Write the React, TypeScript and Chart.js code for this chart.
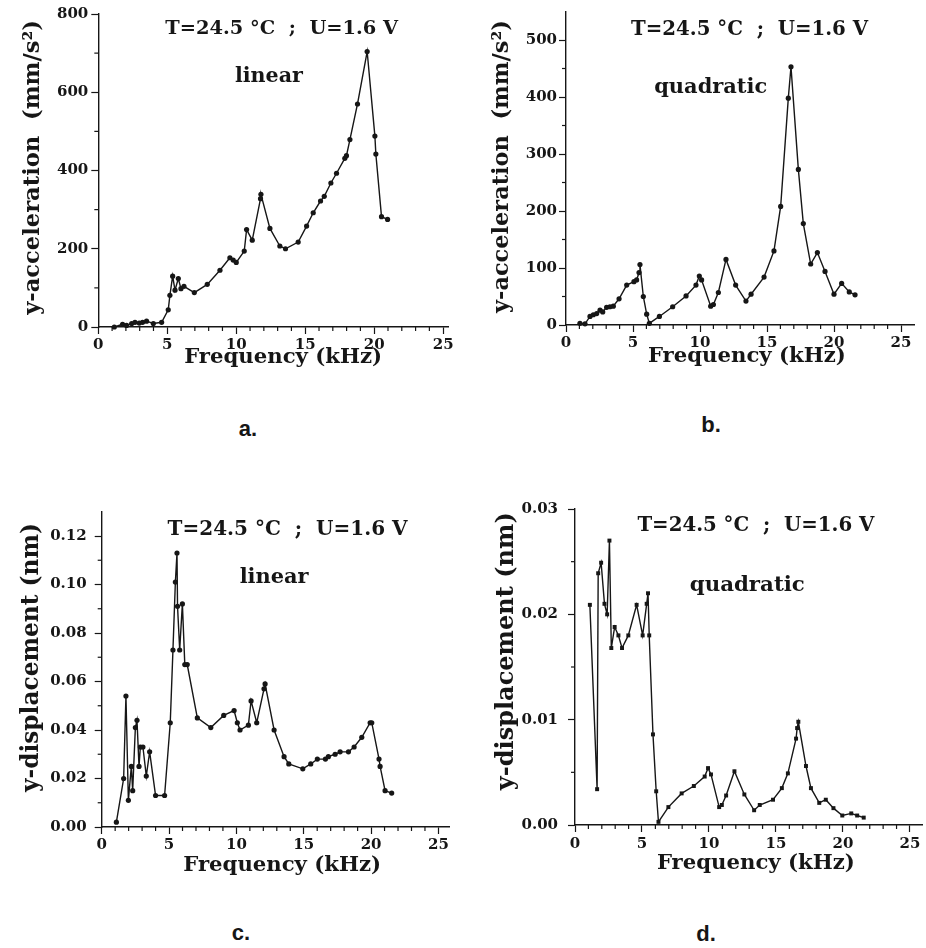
import React, { useEffect, useRef } from 'react';
import { Chart, registerables } from 'chart.js';

Chart.register(...registerables);

// ---------------- data ----------------
const freqA = [1.16, 1.76, 2.05, 2.42, 2.66, 2.97, 3.21, 3.5, 3.99, 4.59, 5.07, 5.19, 5.39, 5.56, 5.8, 5.99, 6.21, 6.96, 7.9, 8.82, 9.54, 9.78, 10.0, 10.58, 10.75, 11.16, 11.76, 11.79, 12.44, 13.16, 13.57, 14.49, 15.1, 15.58, 16.11, 16.38, 16.86, 17.27, 17.87, 17.99, 18.24, 18.79, 19.49, 20.05, 20.12, 20.53, 20.97];
const accA = [0, 7, 4, 9, 12, 10, 12, 15, 9, 12, 44, 81, 130, 94, 124, 98, 104, 88, 109, 145, 177, 171, 165, 194, 249, 222, 328, 339, 252, 207, 200, 217, 258, 292, 322, 334, 368, 393, 431, 438, 479, 570, 704, 488, 442, 282, 275];

const freqB = [1.04, 1.42, 1.79, 2.04, 2.29, 2.54, 2.74, 3.03, 3.28, 3.53, 3.96, 4.53, 5.07, 5.27, 5.45, 5.52, 5.77, 6.02, 6.22, 6.97, 7.96, 8.96, 9.7, 9.95, 10.12, 10.8, 11.0, 11.37, 11.94, 12.66, 13.43, 13.81, 14.78, 15.52, 16.02, 16.59, 16.79, 17.34, 17.71, 18.26, 18.76, 19.33, 20.0, 20.57, 21.14, 21.57];
const accB = [3, 2, 15, 18, 20, 26, 23, 31, 32, 33, 46, 70, 76, 79, 92, 106, 50, 19, 3, 15, 32, 51, 70, 86, 79, 33, 36, 57, 115, 70, 42, 54, 84, 130, 208, 398, 453, 273, 178, 107, 127, 94, 54, 73, 58, 53];

const freqC = [1.09, 1.63, 1.8, 1.98, 2.2, 2.3, 2.5, 2.62, 2.77, 2.87, 3.06, 3.31, 3.56, 4.0, 4.67, 5.09, 5.29, 5.47, 5.59, 5.63, 5.79, 5.99, 6.17, 6.35, 7.1, 8.1, 9.06, 9.83, 10.07, 10.27, 10.89, 11.09, 11.51, 12.05, 12.13, 12.8, 13.54, 13.89, 14.93, 15.52, 16.01, 16.61, 16.83, 17.33, 17.7, 18.32, 18.74, 19.31, 19.93, 20.05, 20.59, 20.67, 21.04, 21.53];
const dispC = [0.002, 0.02, 0.054, 0.011, 0.025, 0.015, 0.041, 0.044, 0.025, 0.033, 0.033, 0.021, 0.031, 0.013, 0.013, 0.043, 0.073, 0.101, 0.113, 0.091, 0.073, 0.092, 0.067, 0.067, 0.045, 0.041, 0.046, 0.048, 0.043, 0.04, 0.042, 0.052, 0.043, 0.057, 0.059, 0.04, 0.029, 0.026, 0.024, 0.026, 0.028, 0.028, 0.029, 0.03, 0.031, 0.031, 0.033, 0.037, 0.043, 0.043, 0.028, 0.025, 0.015, 0.014];

const freqD = [1.11, 1.65, 1.73, 1.95, 2.2, 2.4, 2.57, 2.71, 2.96, 3.24, 3.51, 3.98, 4.6, 5.05, 5.35, 5.45, 5.54, 5.82, 6.06, 6.23, 6.97, 7.96, 8.87, 9.68, 9.93, 10.15, 10.76, 10.96, 11.28, 11.9, 12.64, 13.37, 13.79, 14.78, 15.44, 15.89, 16.5, 16.58, 16.67, 17.24, 17.61, 18.23, 18.72, 19.29, 19.95, 20.62, 21.06, 21.55];
const dispD = [0.0209, 0.0034, 0.0239, 0.0249, 0.021, 0.02, 0.027, 0.0168, 0.0188, 0.018, 0.0168, 0.018, 0.0209, 0.018, 0.021, 0.022, 0.018, 0.0086, 0.0032, 0.0003, 0.0017, 0.003, 0.0037, 0.0046, 0.0054, 0.0048, 0.0017, 0.0019, 0.0028, 0.0051, 0.0029, 0.0014, 0.0019, 0.0024, 0.0035, 0.0049, 0.0082, 0.0092, 0.0098, 0.0056, 0.0035, 0.0021, 0.0024, 0.0016, 0.0009, 0.0011, 0.0009, 0.0007];

// ticks
const xMajorTicks = [0, 5, 10, 15, 20, 25];
const xMinorTicks = [1, 2, 3, 4, 6, 7, 8, 9, 11, 12, 13, 14, 16, 17, 18, 19, 21, 22, 23, 24];
const yMajorA = [0, 200, 400, 600, 800];
const yMinorA = [100, 300, 500, 700];
const yMajorB = [0, 100, 200, 300, 400, 500];
const yMinorB = [50, 150, 250, 350, 450];
const yMajorC = [0, 0.02, 0.04, 0.06, 0.08, 0.1, 0.12];
const yMinorC = [0.01, 0.03, 0.05, 0.07, 0.09, 0.11];
const yMajorD = [0, 0.01, 0.02, 0.03];
const yMinorD = [0.005, 0.015, 0.025];

// texts
const xTitle = 'Frequency (kHz)';
const yTitleAcc = 'y-acceleration  (mm/s²)';
const yTitleDisp = 'y-displacement (nm)';
const conditionText = 'T=24.5 °C  ;  U=1.6 V';
const modeLinear = 'linear';
const modeQuadratic = 'quadratic';
const panelLetters = ['a.', 'b.', 'c.', 'd.'];

// ---------------- styling / layout ----------------
const INK = '#161616';
const SERIF = '"DejaVu Serif", "Liberation Serif", serif';

type Box = { left: number; top: number; width: number; height: number };
type Area = { l: number; t: number; r: number; b: number };
type Label = { text: string; x: number; y: number; w: number };

interface PanelSpec {
  freq: number[];
  values: number[];
  xMax: number;
  yMax: number;
  yMajor: number[];
  yMinor: number[];
  decimals: number;
  yTitle: string;
  yTitleValue: number;
  yTitleOffset: number;
  yTitleWidth: number;
  xTitleValue: number;
  xTitleOffset: number;
  xTitleWidth: number;
  condition: Label;
  mode: Label;
  box: Box;
  area: Area;
  tickFont: number;
  yTickPad: number;
  xTickPad: number;
  pointStyle: string;
  pointRadius: number;
}

const panels: PanelSpec[] = [
  {
    freq: freqA, values: accA, xMax: 25.35, yMax: 800,
    yMajor: yMajorA, yMinor: yMinorA, decimals: 0,
    yTitle: yTitleAcc, yTitleValue: 408, yTitleOffset: 65, yTitleWidth: 295,
    xTitleValue: 13.4, xTitleOffset: 30, xTitleWidth: 198,
    condition: { text: conditionText, x: 13.3, y: 762, w: 233 },
    mode: { text: modeLinear, x: 12.37, y: 639, w: 68 },
    box: { left: 0, top: 0, width: 463, height: 400 },
    area: { l: 98.3, t: 14, r: 448, b: 327 },
    tickFont: 15, yTickPad: 3, xTickPad: 2, pointStyle: 'circle', pointRadius: 2.6,
  },
  {
    freq: freqB, values: accB, xMax: 26, yMax: 550,
    yMajor: yMajorB, yMinor: yMinorB, decimals: 0,
    yTitle: yTitleAcc, yTitleValue: 278, yTitleOffset: 64, yTitleWidth: 293,
    xTitleValue: 13.5, xTitleOffset: 31, xTitleWidth: 198,
    condition: { text: conditionText, x: 13.7, y: 517, w: 237 },
    mode: { text: modeQuadratic, x: 10.8, y: 417, w: 113 },
    box: { left: 463, top: 0, width: 463, height: 400 },
    area: { l: 103, t: 11.5, r: 451.4, b: 325 },
    tickFont: 15, yTickPad: 2, xTickPad: 2, pointStyle: 'circle', pointRadius: 2.6,
  },
  {
    freq: freqC, values: dispC, xMax: 25.8, yMax: 0.13,
    yMajor: yMajorC, yMinor: yMinorC, decimals: 2,
    yTitle: yTitleDisp, yTitleValue: 0.0699, yTitleOffset: 70, yTitleWidth: 269,
    xTitleValue: 13.4, xTitleOffset: 38, xTitleWidth: 198,
    condition: { text: conditionText, x: 13.8, y: 0.1225, w: 240 },
    mode: { text: modeLinear, x: 12.8, y: 0.1027, w: 69 },
    box: { left: 0, top: 480, width: 463, height: 400 },
    area: { l: 101.7, t: 31.75, r: 449.2, b: 347 },
    tickFont: 15, yTickPad: 8, xTickPad: 2, pointStyle: 'circle', pointRadius: 2.6,
  },
  {
    freq: freqD, values: dispD, xMax: 25.9, yMax: 0.03,
    yMajor: yMajorD, yMinor: yMinorD, decimals: 2,
    yTitle: yTitleDisp, yTitleValue: 0.0165, yTitleOffset: 68, yTitleWidth: 278,
    xTitleValue: 13.5, xTitleOffset: 38, xTitleWidth: 198,
    condition: { text: conditionText, x: 13.5, y: 0.0284, w: 237 },
    mode: { text: modeQuadratic, x: 12.86, y: 0.0227, w: 115 },
    box: { left: 463, top: 480, width: 463, height: 400 },
    area: { l: 112, t: 29, r: 462.4, b: 345 },
    tickFont: 15, yTickPad: 10, xTickPad: 3, pointStyle: 'rect', pointRadius: 2.8,
  },
];

const letterPos = [
  { x: 248, y: 429 },
  { x: 711, y: 425 },
  { x: 241, y: 933 },
  { x: 706, y: 934 },
];

function fitText(ctx: CanvasRenderingContext2D, text: string, target: number) {
  const base = 20;
  ctx.font = `bold ${base}px ${SERIF}`;
  const w = ctx.measureText(text).width || 1;
  const size = (base * target) / w;
  ctx.font = `bold ${size}px ${SERIF}`;
}

function makeDecor(spec: PanelSpec) {
  return {
    id: 'decor',
    afterDraw(chart: any) {
      const ctx: CanvasRenderingContext2D = chart.ctx;
      const xs = chart.scales.x;
      const ys = chart.scales.y;
      ctx.save();
      ctx.strokeStyle = INK;
      ctx.lineWidth = 1.2;
      // minor ticks
      xMinorTicks.filter((v) => v < spec.xMax).forEach((v) => {
        const px = xs.getPixelForValue(v);
        ctx.beginPath();
        ctx.moveTo(px, ys.bottom);
        ctx.lineTo(px, ys.bottom + 4);
        ctx.stroke();
      });
      spec.yMinor.forEach((v) => {
        const py = ys.getPixelForValue(v);
        ctx.beginPath();
        ctx.moveTo(xs.left - 4, py);
        ctx.lineTo(xs.left, py);
        ctx.stroke();
      });
      ctx.fillStyle = INK;
      ctx.textAlign = 'center';
      ctx.textBaseline = 'middle';
      // x title
      fitText(ctx, xTitle, spec.xTitleWidth);
      ctx.fillText(xTitle, xs.getPixelForValue(spec.xTitleValue), ys.bottom + spec.xTitleOffset);
      // y title
      fitText(ctx, spec.yTitle, spec.yTitleWidth);
      ctx.save();
      ctx.translate(xs.left - spec.yTitleOffset, ys.getPixelForValue(spec.yTitleValue));
      ctx.rotate(-Math.PI / 2);
      ctx.fillText(spec.yTitle, 0, 0);
      ctx.restore();
      // annotations
      [spec.condition, spec.mode].forEach((lab) => {
        fitText(ctx, lab.text, lab.w);
        ctx.fillText(lab.text, xs.getPixelForValue(lab.x), ys.getPixelForValue(lab.y));
      });
      ctx.restore();
    },
  };
}

function Panel({ spec }: { spec: PanelSpec }) {
  const ref = useRef<HTMLCanvasElement | null>(null);
  useEffect(() => {
    if (!ref.current) return;
    const { box, area } = spec;
    const points = spec.freq.map((f, i) => ({ x: f, y: spec.values[i] }));
    const tickFont = { family: SERIF, size: spec.tickFont, weight: 'bold' as const };
    const chart = new Chart(ref.current, {
      type: 'scatter',
      data: {
        datasets: [
          {
            data: points,
            showLine: true,
            borderColor: INK,
            borderWidth: 1.4,
            pointRadius: spec.pointRadius,
            pointStyle: spec.pointStyle as any,
            pointBackgroundColor: INK,
            pointBorderColor: INK,
            pointBorderWidth: 0,
            tension: 0,
            clip: false as any,
          },
        ],
      },
      options: {
        animation: false,
        responsive: false,
        maintainAspectRatio: false,
        events: [],
        layout: { padding: { left: 0, top: area.t, right: box.width - area.r, bottom: 0 } },
        plugins: { legend: { display: false }, tooltip: { enabled: false } },
        scales: {
          x: {
            type: 'linear',
            min: 0,
            max: spec.xMax,
            afterBuildTicks: (s: any) => {
              s.ticks = xMajorTicks.map((v) => ({ value: v }));
            },
            afterFit: (s: any) => {
              s.height = box.height - area.b;
            },
            ticks: {
              font: tickFont,
              color: INK,
              padding: spec.xTickPad,
              maxRotation: 0,
              autoSkip: false,
              callback: (v: any) => String(v),
            },
            grid: {
              drawOnChartArea: false,
              drawTicks: true,
              tickLength: 7,
              tickColor: INK,
              tickWidth: 1.2,
              color: INK,
            },
            border: { display: true, color: INK, width: 1.4 },
          },
          y: {
            type: 'linear',
            min: 0,
            max: spec.yMax,
            afterBuildTicks: (s: any) => {
              s.ticks = spec.yMajor.map((v) => ({ value: v }));
            },
            afterFit: (s: any) => {
              s.width = area.l;
            },
            ticks: {
              font: tickFont,
              color: INK,
              padding: spec.yTickPad,
              autoSkip: false,
              callback: (v: any) => Number(v).toFixed(spec.decimals),
            },
            grid: {
              drawOnChartArea: false,
              drawTicks: true,
              tickLength: 7,
              tickColor: INK,
              tickWidth: 1.2,
              color: INK,
            },
            border: { display: true, color: INK, width: 1.4 },
          },
        },
      },
      plugins: [makeDecor(spec)],
    });
    return () => chart.destroy();
  }, [spec]);
  const { box } = spec;
  return (
    <canvas
      ref={ref}
      width={box.width}
      height={box.height}
      style={{ position: 'absolute', left: box.left, top: box.top, width: box.width, height: box.height }}
    />
  );
}

export default function App() {
  return (
    <div style={{ position: 'absolute', left: 0, top: 0, width: 926, height: 948, background: '#fff', overflow: 'hidden' }}>
      {panels.map((p, i) => (
        <Panel key={i} spec={p} />
      ))}
      {panelLetters.map((t, i) => (
        <div
          key={t}
          style={{
            position: 'absolute',
            left: letterPos[i].x,
            top: letterPos[i].y,
            transform: 'translate(-50%, -50%)',
            font: 'bold 22px "Liberation Sans", Arial, sans-serif',
            color: INK,
            lineHeight: 1,
          }}
        >
          {t}
        </div>
      ))}
    </div>
  );
}
